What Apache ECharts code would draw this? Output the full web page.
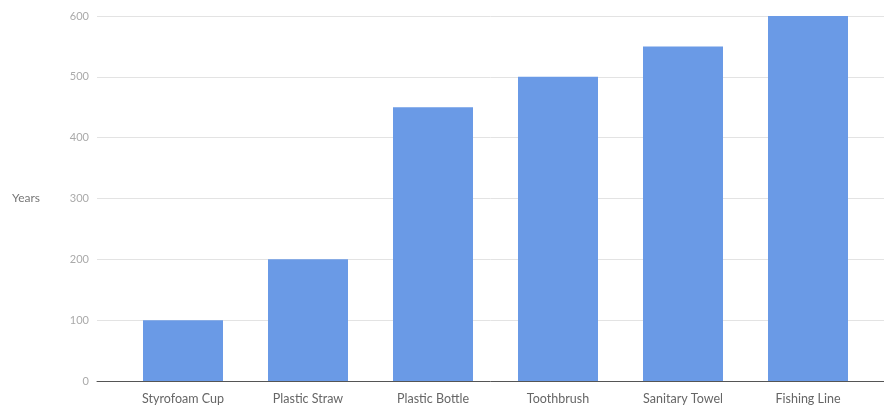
<!DOCTYPE html>
<html>
<head>
<meta charset="utf-8">
<script src="https://cdn.jsdelivr.net/npm/echarts@6/dist/echarts.min.js"></script>
<style>
  html, body { margin: 0; padding: 0; background: #fff; }
  #chart { width: 884px; height: 407px; }
</style>
</head>
<body>
<div id="chart"></div>
<script>
// categories and values (years to decompose)
const categories = ["Styrofoam Cup", "Plastic Straw", "Plastic Bottle", "Toothbrush", "Sanitary Towel", "Fishing Line"];
const years = [100, 200, 450, 500, 550, 600];
const yTicks = [0, 100, 200, 300, 400, 500, 600];

const myChart = echarts.init(document.getElementById("chart"));
const font = "Lato, 'Open Sans', sans-serif";

const option = {
  animation: false,
  textStyle: { fontFamily: font },
  // grid 0 carries gridlines + y labels, grid 1 carries the bars
  grid: [
    { left: 97, right: 0, top: 16, bottom: 26 },
    { left: 120.5, right: 13.5, top: 16, bottom: 26 },
  ],
  xAxis: [
    {
      gridIndex: 0,
      type: "value",
      min: 0,
      max: 1,
      axisLabel: { show: false },
      axisTick: { show: false },
      splitLine: { show: false },
      axisLine: { show: true, lineStyle: { color: "#555", width: 1 } },
    },
    {
      gridIndex: 1,
      type: "category",
      data: categories,
      axisLine: { show: false },
      axisTick: { show: false },
      axisLabel: { color: "#666", fontSize: 12.5, margin: 11, fontFamily: font },
    },
  ],
  yAxis: [
    {
      gridIndex: 0,
      type: "value",
      min: yTicks[0],
      max: yTicks[yTicks.length - 1],
      interval: 100,
      name: "Years",
      nameLocation: "middle",
      nameRotate: 0,
      nameGap: 57,
      nameTextStyle: { color: "#777", fontSize: 12, fontFamily: font },
      axisLine: { show: false },
      axisTick: { show: false },
      axisLabel: { color: "#aaa", fontSize: 11, margin: 8, fontFamily: font },
      splitLine: { show: true, lineStyle: { color: "#e3e3e3", width: 1 } },
    },
    {
      gridIndex: 1,
      type: "value",
      min: yTicks[0],
      max: yTicks[yTicks.length - 1],
      interval: 100,
      show: false,
      splitLine: { show: false },
    },
  ],
  series: [
    {
      type: "bar",
      xAxisIndex: 1,
      yAxisIndex: 1,
      data: years,
      barWidth: 80,
      itemStyle: { color: "#6a9ae6" },
      z: 3,
    },
  ],
};
myChart.setOption(option, true);
</script>
</body>
</html>
